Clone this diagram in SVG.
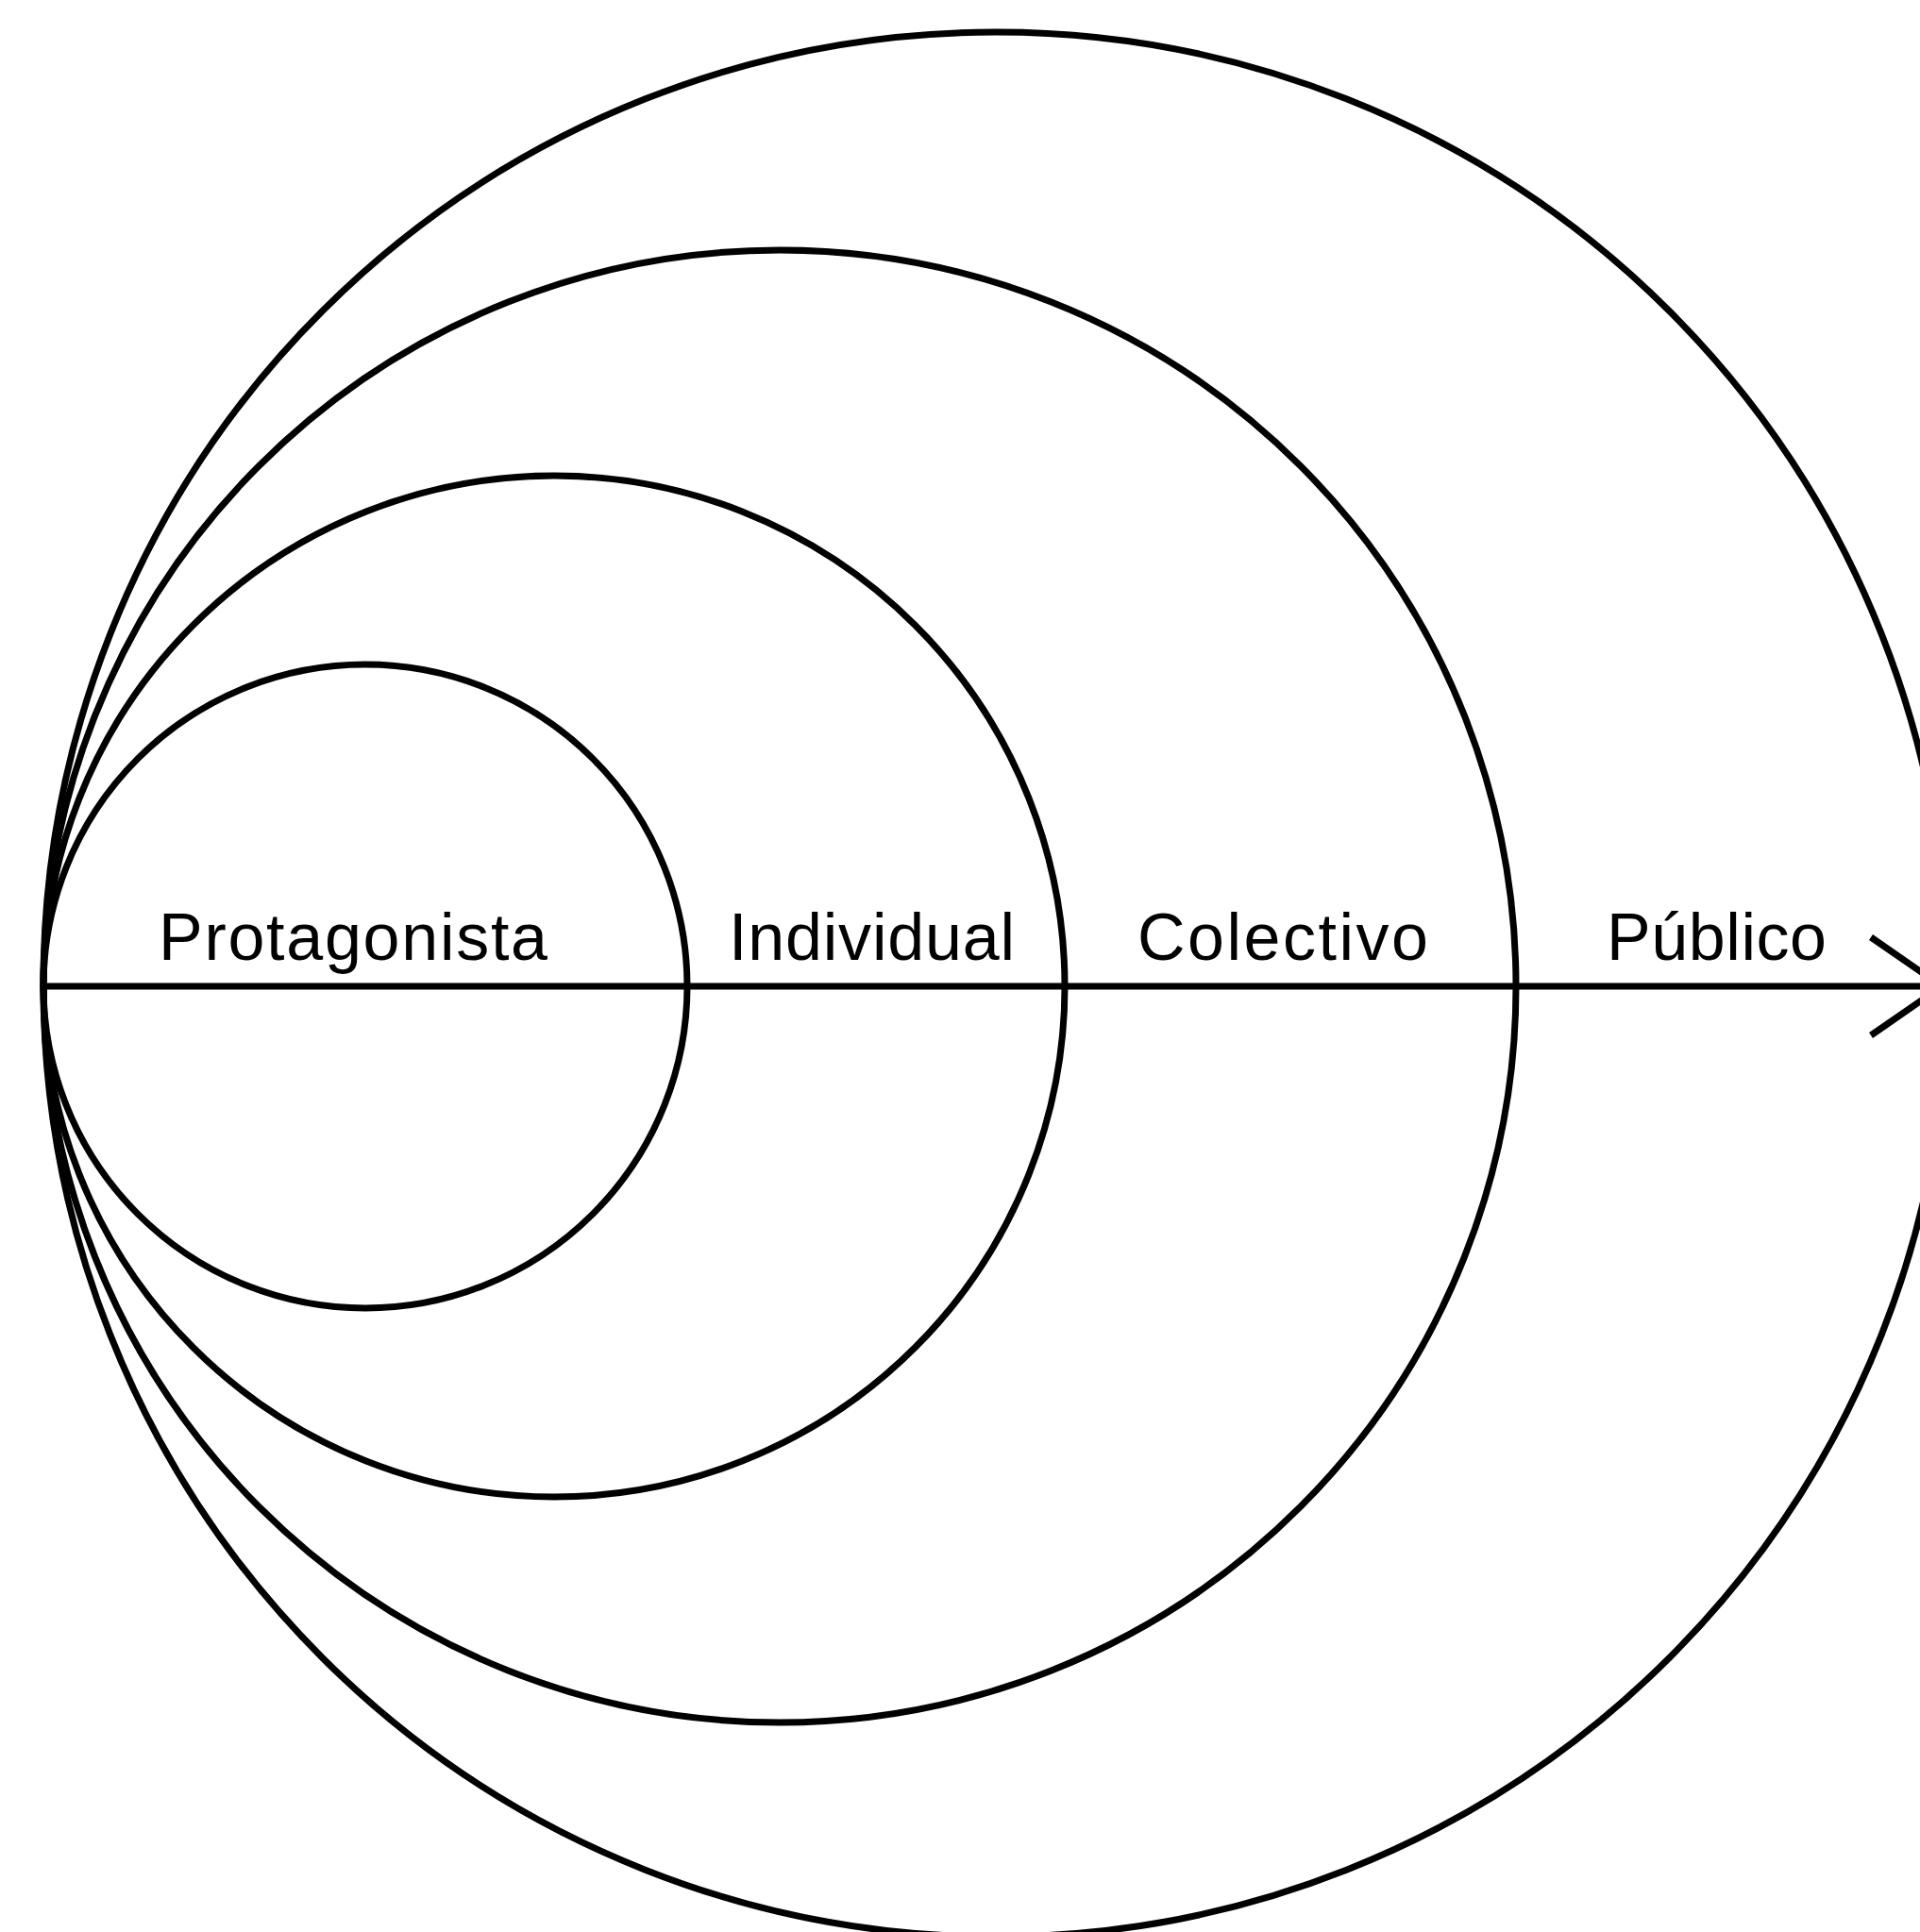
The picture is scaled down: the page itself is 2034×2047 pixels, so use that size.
<svg xmlns="http://www.w3.org/2000/svg" width="2034" height="2047" viewBox="0 0 2034 2047">
<style>
.ring{fill:none;stroke:#000;stroke-width:7}
.conn{fill:none;stroke:#000;stroke-width:7}
.lbl{font-family:"Liberation Sans",Arial,sans-serif;font-size:70px;fill:#000}
</style>
<rect width="2034" height="2047" fill="#fff"/>
<g id="node-publico">
<circle class="ring" cx="1055" cy="1043" r="1009"/>
<text class="lbl" x="1702" y="1017" textLength="233" lengthAdjust="spacing">Público</text>
</g>
<g id="node-colectivo">
<circle class="ring" cx="826" cy="1045" r="780"/>
<text class="lbl" x="1205" y="1017" textLength="308" lengthAdjust="spacing">Colectivo</text>
</g>
<g id="node-individual">
<circle class="ring" cx="587" cy="1045" r="541"/>
<text class="lbl" x="772" y="1017" textLength="303" lengthAdjust="spacing">Individual</text>
</g>
<g id="node-protagonista">
<circle class="ring" cx="387" cy="1045" r="341"/>
<text class="lbl" x="168" y="1017" textLength="412" lengthAdjust="spacing">Protagonista</text>
</g>
<g id="connectors">
<line class="conn" x1="46" y1="1045" x2="2057" y2="1045"/>
<polyline class="conn" points="1982,993 2057,1045 1982,1097"/>
</g>
</svg>
